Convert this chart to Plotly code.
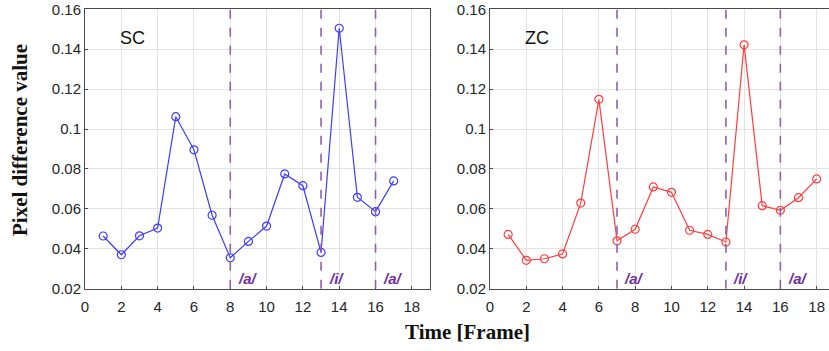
import plotly.graph_objects as go

frames_sc = list(range(1, 18))
sc_values = [0.0464, 0.0370, 0.0465, 0.0504, 0.1062, 0.0896, 0.0568, 0.0355, 0.0437,
             0.0514, 0.0775, 0.0716, 0.0382, 0.1505, 0.0658, 0.0586, 0.0740]
frames_zc = list(range(1, 19))
zc_values = [0.0472, 0.0342, 0.0350, 0.0374, 0.0629, 0.1149, 0.0440, 0.0498, 0.0710,
             0.0683, 0.0493, 0.0472, 0.0434, 0.1422, 0.0616, 0.0593, 0.0656, 0.0750]
sc_boundaries = [8, 13, 16]
zc_boundaries = [7, 13, 16]
vowel_labels = ["/a/", "/i/", "/a/"]
x_ticks = [0, 2, 4, 6, 8, 10, 12, 14, 16, 18]
y_ticks = [0.02, 0.04, 0.06, 0.08, 0.10, 0.12, 0.14, 0.16]
y_tick_text = ["0.02", "0.04", "0.06", "0.08", "0.1", "0.12", "0.14", "0.16"]

W, H = 829, 351
ydom = [1 - 288.7 / H, 1 - 9.3 / H]
x1dom = [85 / W, 430 / W]
x2dom = [490 / W, 1.0]

fig = go.Figure()
fig.add_trace(go.Scatter(x=frames_sc, y=sc_values, mode="lines+markers",
                         line=dict(color="#3d3dff", width=1.2),
                         marker=dict(symbol="circle-open", size=8, color="#3d3dff", line=dict(width=1.2)),
                         xaxis="x", yaxis="y", showlegend=False, cliponaxis=False))
fig.add_trace(go.Scatter(x=frames_zc, y=zc_values, mode="lines+markers",
                         line=dict(color="#ff3d3d", width=1.2),
                         marker=dict(symbol="circle-open", size=8, color="#ff3d3d", line=dict(width=1.2)),
                         xaxis="x2", yaxis="y2", showlegend=False, cliponaxis=False))

shapes = []
annotations = []
for xr, yr, bounds in (("x", "y", sc_boundaries), ("x2", "y2", zc_boundaries)):
    for b, lab in zip(bounds, vowel_labels):
        shapes.append(dict(type="line", xref=xr, yref=yr, x0=b, x1=b, y0=0.02, y1=0.16,
                           line=dict(color="#9060a8", width=1.6, dash="dash")))
        annotations.append(dict(x=b + 0.3, y=0.0252, xref=xr, yref=yr, text="<b><i>" + lab + "</i></b>",
                                showarrow=False, xanchor="left", yanchor="middle",
                                font=dict(family="Liberation Sans, Arial", size=15, color="#7030a0")))

annotations.append(dict(x=2.6, y=0.1458, xref="x", yref="y", text="SC", showarrow=False,
                        font=dict(family="Liberation Sans, Arial", size=18, color="#111111")))
annotations.append(dict(x=2.58, y=0.1458, xref="x2", yref="y2", text="ZC", showarrow=False,
                        font=dict(family="Liberation Sans, Arial", size=18, color="#111111")))
annotations.append(dict(x=20 / W, y=1 - 140 / H, xref="paper", yref="paper",
                        xanchor="center", yanchor="middle",
                        text="<b>Pixel difference value</b>", textangle=-90, showarrow=False,
                        font=dict(family="Liberation Serif, Times New Roman", size=21, color="#111111")))
annotations.append(dict(x=467 / W, y=1 - 332 / H, xref="paper", yref="paper",
                        xanchor="center", yanchor="middle",
                        text="<b>Time [Frame]</b>", showarrow=False,
                        font=dict(family="Liberation Serif, Times New Roman", size=21, color="#111111")))

axis_common = dict(showgrid=True, gridcolor="#e3e3e3", gridwidth=1, zeroline=False,
                   showline=True, linecolor="#4a4a4a", linewidth=1, automargin=False,
                   ticks="inside", ticklen=3, tickcolor="#4a4a4a",
                   tickfont=dict(family="Liberation Sans, Arial", size=15, color="#262626"))

fig.update_layout(
    width=W, height=H, margin=dict(l=0, r=0, t=0, b=0, pad=0, autoexpand=False),
    paper_bgcolor="white", plot_bgcolor="white",
    xaxis=dict(domain=x1dom, range=[0, 19], tickvals=x_ticks, mirror=True, anchor="y",
               ticklabelstandoff=4, **axis_common),
    yaxis=dict(domain=ydom, range=[0.02, 0.16], tickvals=y_ticks, ticktext=y_tick_text,
               mirror=True, anchor="x", **axis_common),
    xaxis2=dict(domain=x2dom, range=[0, 18.68], tickvals=x_ticks, mirror=True, anchor="y2",
                ticklabelstandoff=4, **axis_common),
    yaxis2=dict(domain=ydom, range=[0.02, 0.16], tickvals=y_ticks, ticktext=y_tick_text,
                mirror=False, anchor="x2", **axis_common),
    shapes=shapes, annotations=annotations,
)

fig.write_html("out.html")
